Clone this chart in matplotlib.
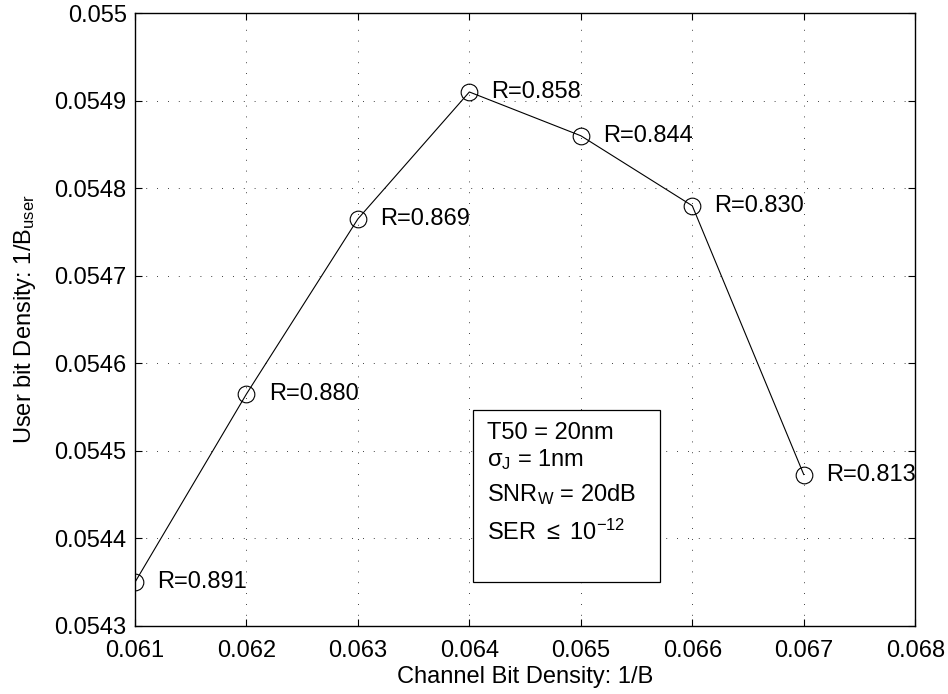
import matplotlib
matplotlib.use("Agg")
import matplotlib.pyplot as plt

plt.rcParams['font.family'] = ['Liberation Sans', 'DejaVu Sans']
plt.rcParams['mathtext.fontset'] = 'custom'
plt.rcParams['mathtext.rm'] = 'Liberation Sans'
plt.rcParams['mathtext.it'] = 'Liberation Sans'

# channel bit density vs user bit density, with code rate per point
channel_density = [0.061, 0.062, 0.063, 0.064, 0.065, 0.066, 0.067]
user_density = [0.05435, 0.054565, 0.054765, 0.054910, 0.05486, 0.05478, 0.054473]
rates = ["0.891", "0.880", "0.869", "0.858", "0.844", "0.830", "0.813"]

x_ticks = [0.061, 0.062, 0.063, 0.064, 0.065, 0.066, 0.067, 0.068]
y_ticks = [0.0543, 0.0544, 0.0545, 0.0546, 0.0547, 0.0548, 0.0549, 0.055]

fs = 17

fig = plt.figure(figsize=(9.48, 6.94), dpi=100)
ax = fig.add_axes([0.1424, 0.098, 0.823, 0.883])

ax.plot(channel_density, user_density, 'k-', lw=0.8)
ax.plot(channel_density, user_density, 'ko', mfc='none', ms=12, mew=0.8)

for x, y, r in zip(channel_density, user_density, rates):
    ax.annotate("R=" + r, (x, y), xytext=(16, 0), textcoords='offset points',
                va='center', ha='left', fontsize=fs)

ax.set_xlim(0.061, 0.068)
ax.set_ylim(0.0543, 0.055)
ax.set_xticks(x_ticks)
ax.set_xticklabels(["%.3f" % v for v in x_ticks])
ax.set_yticks(y_ticks)
ax.set_yticklabels(["%.4f" % v if v < 0.055 else "0.055" for v in y_ticks])
ax.tick_params(labelsize=fs, direction='in', length=5, top=True, right=True)
ax.tick_params(axis='y', pad=6)
ax.tick_params(axis='x', pad=10)
ax.grid(True, color='k', linestyle=(0, (1, 12)), linewidth=0.6)
for s in ax.spines.values():
    s.set_linewidth(1.0)

ax.set_xlabel("Channel Bit Density: 1/B", fontsize=fs, labelpad=3)
ax.set_ylabel("User bit Density: 1/B$_{\\mathrm{user}}$", fontsize=fs, labelpad=12)

# parameter box
box = plt.Rectangle((0.433, 0.071), 0.24, 0.281, transform=ax.transAxes,
                    facecolor='white', edgecolor='k', lw=0.9, zorder=3)
ax.add_patch(box)
lines = ["T50 = 20nm", "$\\sigma_{\\mathrm{J}}$ = 1nm",
         "SNR$_{\\mathrm{W}}$ = 20dB", "SER $\\leq$ 10$^{-12}$"]
ys = [0.315, 0.272, 0.214, 0.153]
for t, yy in zip(lines, ys):
    ax.text(0.451, yy, t, transform=ax.transAxes, fontsize=fs, va='center',
            ha='left', zorder=4)

fig.savefig("out.png", dpi=100)
